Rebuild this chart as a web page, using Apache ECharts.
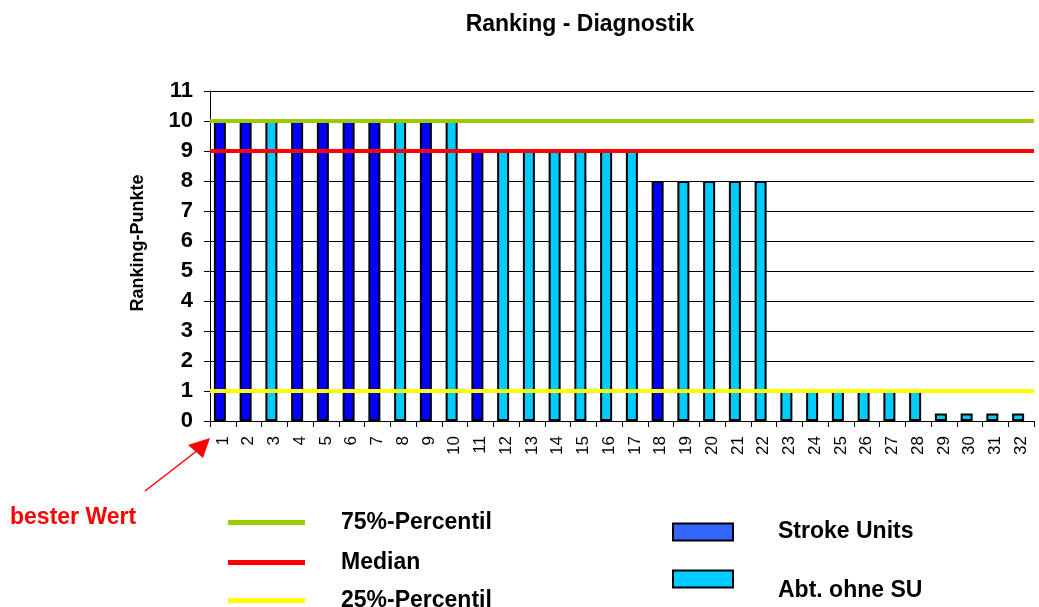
<!DOCTYPE html>
<html>
<head>
<meta charset="utf-8">
<script src="https://cdn.jsdelivr.net/npm/echarts@6/dist/echarts.min.js"></script>
<style>html,body{margin:0;padding:0;background:#fff;}#c{width:1039px;height:607px;}</style>
</head>
<body>
<div id="c"></div>
<script>
const categories = ['1','2','3','4','5','6','7','8','9','10','11','12','13','14','15','16','17','18','19','20','21','22','23','24','25','26','27','28','29','30','31','32'];
const strokeUnits = [10,10,'-',10,10,10,10,'-',10,'-',9,'-','-','-','-','-','-',8,'-','-','-','-','-','-','-','-','-','-','-','-','-','-'];
const abtOhneSU = ['-','-',10,'-','-','-','-',10,'-',10,'-',9,9,9,9,9,9,'-',8,8,8,8,1,1,1,1,1,1,0.25,0.25,0.25,0.25];
const p75 = 10;
const median = 9;
const p25 = 1;

const chart = echarts.init(document.getElementById('c'));
const font = 'Liberation Sans, Arial, sans-serif';
const txt = (size) => ({fontSize: size, fontWeight: 'bold', color: '#000', fontFamily: font});

function refLine(name, value, color) {
  return {
    name: name, type: 'line', data: [], symbol: 'none', z: 5,
    lineStyle: {color: color, width: 4}, itemStyle: {color: color},
    markLine: {
      silent: true, symbol: 'none', label: {show: false},
      lineStyle: {color: color, width: 4, type: 'solid'},
      data: [{yAxis: value}]
    }
  };
}
function lineLegend(name, color, top) {
  return {
    left: 228, top: top, padding: 0, itemWidth: 77, itemHeight: 5, icon: 'rect',
    data: [{name: name, itemStyle: {color: color}}],
    textStyle: Object.assign(txt(23), {padding: [0, 0, 0, 31]})
  };
}
function boxLegend(name, color, top, formatter) {
  return {
    left: 672, top: top, padding: 0, itemWidth: 60, itemHeight: 17, icon: 'rect',
    formatter: formatter,
    data: [{name: name, itemStyle: {color: color, borderColor: '#000', borderWidth: 2}}],
    textStyle: Object.assign(txt(23), {padding: [0, 0, 0, 40], lineHeight: 24})
  };
}

chart.setOption({
  animation: false,
  textStyle: {fontFamily: font},
  title: {
    text: 'Ranking - Diagnostik', left: 575, top: 8, textAlign: 'center',
    textStyle: txt(23)
  },
  grid: {left: 210, right: 5, top: 91, bottom: 186},
  legend: [
    lineLegend('75%-Percentil', '#99CC00', 511),
    lineLegend('Median', '#FF0000', 551),
    lineLegend('25%-Percentil', '#FFFF00', 589),
    boxLegend('Stroke Units', '#3366FF', 520, '{name}'),
    boxLegend('Abt. ohne SU', '#00CCFF', 555, '\n{name}')
  ],
  xAxis: {
    type: 'category', data: categories,
    axisLine: {lineStyle: {color: '#000', width: 1}},
    axisTick: {show: true, alignWithLabel: false, length: 6, lineStyle: {color: '#000'}},
    axisLabel: {rotate: 90, fontSize: 17, color: '#000', margin: 15, fontFamily: font}
  },
  yAxis: {
    type: 'value', min: 0, max: 11, interval: 1,
    name: 'Ranking-Punkte', nameLocation: 'middle', nameGap: 63, nameRotate: 90,
    nameTextStyle: Object.assign(txt(18), {padding: [0, 0, 0, 26]}),
    axisLine: {show: true, lineStyle: {color: '#000', width: 1}},
    axisTick: {show: true, length: 6, lineStyle: {color: '#000'}},
    axisLabel: Object.assign(txt(22), {margin: 17}),
    splitLine: {show: true, lineStyle: {color: '#000', width: 1}}
  },
  series: [
    {name: 'Stroke Units', type: 'bar', stack: 'b', data: strokeUnits, barWidth: 12, barGap: 0,
     itemStyle: {color: '#0000FF', borderColor: '#000', borderWidth: 2}},
    {name: 'Abt. ohne SU', type: 'bar', stack: 'b', data: abtOhneSU, barWidth: 12, barGap: 0,
     itemStyle: {color: '#00CCFF', borderColor: '#000', borderWidth: 2}},
    {name: 'spacer', type: 'bar', stack: 'spacer', data: [], barWidth: 6, barGap: 0, silent: true},
    refLine('75%-Percentil', p75, '#99CC00'),
    refLine('Median', median, '#FF0000'),
    refLine('25%-Percentil', p25, '#FFFF00')
  ],
  graphic: [
    {type: 'text', x: 10, y: 518, style: {text: 'bester Wert', fill: '#FF0000', font: 'bold 23px ' + font, textVerticalAlign: 'middle'}},
    {type: 'line', shape: {x1: 145, y1: 491, x2: 198, y2: 450}, style: {stroke: '#FF0000', lineWidth: 1.5}},
    {type: 'polygon', shape: {points: [[210, 438], [188, 445], [203, 458]]}, style: {fill: '#FF0000'}}
  ]
});
</script>
</body>
</html>
